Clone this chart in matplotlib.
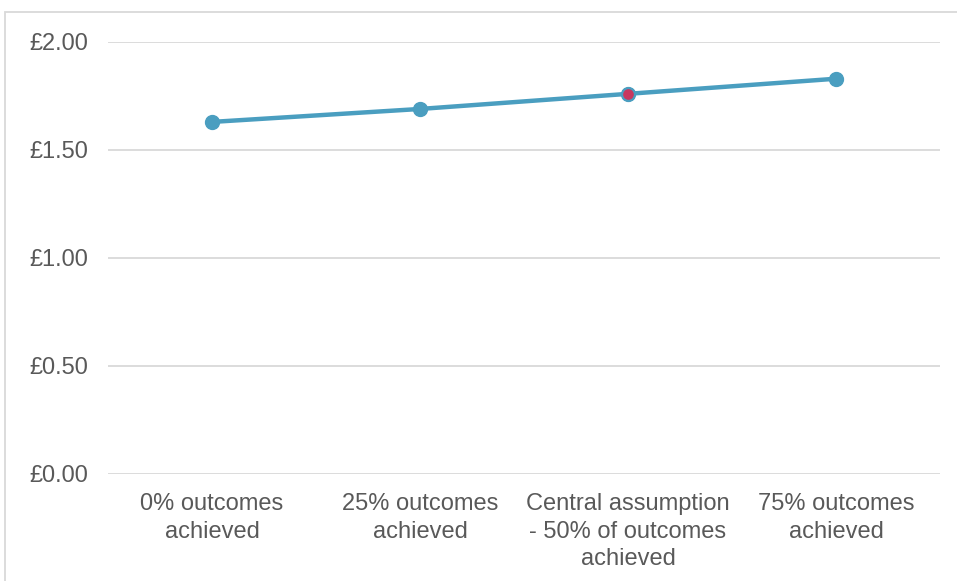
import matplotlib.pyplot as plt
from matplotlib.patches import Rectangle
from matplotlib.ticker import FuncFormatter

categories = ['0% outcomes\nachieved', '25% outcomes\nachieved',
              'Central assumption\n- 50% of outcomes\nachieved', '75% outcomes\nachieved']
values = [1.63, 1.69, 1.76, 1.83]
highlight = 2  # central assumption point

plt.rcParams['font.family'] = ['Liberation Sans', 'DejaVu Sans']

W, H = 957, 581
fig = plt.figure(figsize=(W / 100, H / 100), dpi=100)
ax = fig.add_axes([108 / W, (H - 474) / H, 832 / W, 432 / H])

x = list(range(len(categories)))
line_col = '#4A9EC0'
ax.plot(x, values, color=line_col, lw=3.2, marker='o', ms=10, mfc=line_col, mec=line_col, zorder=3)
ax.plot(x[highlight], values[highlight], 'o', ms=9, mfc='#C8385F', mec=line_col, mew=1.3, zorder=4)

ax.set_xlim(-0.5, len(categories) - 0.5)
ax.set_ylim(0, 2)
ax.set_yticks([0, 0.5, 1.0, 1.5, 2.0])
ax.yaxis.set_major_formatter(FuncFormatter(lambda v, p: '£%.2f' % v))
ax.set_xticks(x)
ax.set_xticklabels(categories, linespacing=1.3)
ax.grid(axis='y', color='#D9D9D9', lw=1.3)
ax.set_axisbelow(True)
for s in ax.spines.values():
    s.set_visible(False)
ax.tick_params(length=0, labelsize=17, colors='#595959', pad=14)
ax.tick_params(axis='x', pad=14)

# outer chart border
fig.patches.append(Rectangle((5 / W, -0.05), 1.1, (H - 12) / H + 0.05, transform=fig.transFigure,
                             fill=False, ec='#D9D9D9', lw=1.3))

fig.savefig('out.png', dpi=100)
